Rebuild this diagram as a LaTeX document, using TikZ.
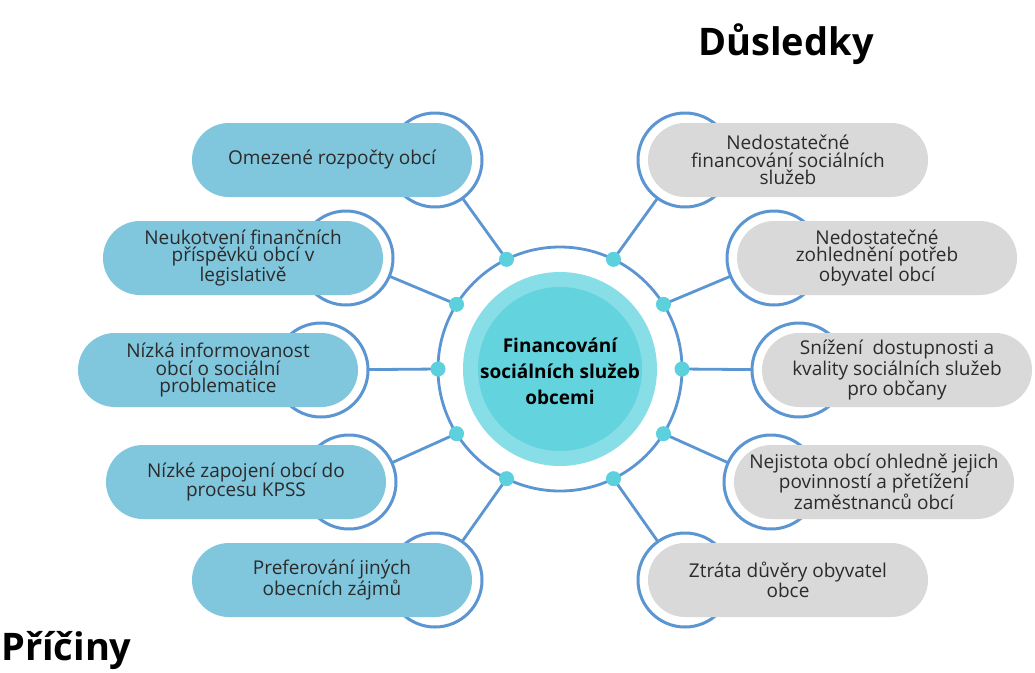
\documentclass[tikz,border=0pt]{standalone}
\usepackage{fontspec}
\setmainfont{Open Sans}
\definecolor{lineblue}{HTML}{5B96D2}
\definecolor{pillblue}{HTML}{80C6DD}
\definecolor{pillgray}{HTML}{D9D9D9}
\definecolor{cyanout}{HTML}{88DEE6}
\definecolor{cyanin}{HTML}{63D3DD}
\definecolor{dotcyan}{HTML}{5CD0DC}
\definecolor{txt}{HTML}{2B2B2B}
\newcommand\pilltext{\fontsize{19}{17.8}\selectfont}
\newcommand\hubtext{\fontsize{19}{26}\selectfont\bfseries}
\newcommand\titletext{\fontsize{38}{40}\selectfont\bfseries}
\begin{document}
\begin{tikzpicture}[x=1pt,y=-1pt,
  ringc/.style={circle,draw=lineblue,line width=3pt,minimum size=94pt,inner sep=0pt,outer sep=0pt},
  pillL/.style={fill=pillblue,rounded corners=37pt,minimum width=280pt,minimum height=74pt,inner sep=0pt,align=center,text=txt,font=\pilltext},
  pillR/.style={pillL,fill=pillgray},
  dotc/.style={circle,fill=dotcyan,minimum size=15pt,inner sep=0pt},
  conn/.style={draw=lineblue,line width=2.8pt},
  titlec/.style={font=\titletext,text=black,inner sep=0pt}]
\useasboundingbox (0,0) rectangle (1035,672);
\fill[white] (0,0) rectangle (1035,672);
% hub
\node[circle,draw=lineblue,line width=2.8pt,minimum size=244pt,inner sep=0pt,outer sep=0pt] (hub) at (560,369) {};
\node[circle,fill=cyanout,minimum size=194pt,inner sep=0pt] (core) at (560,369) {};
\node[circle,fill=cyanin,minimum size=164pt,inner sep=0pt] (corein) at (560,369) {};
\node[align=center,font=\hubtext,text=black] (hubt) at (560,371) {Financování\\sociálních služeb\\obcemi};
% rings
\node[ringc] (rL1) at (435,160) {};
\node[ringc] (rL2) at (346,258) {};
\node[ringc] (rL3) at (321,370) {};
\node[ringc] (rL4) at (349,482) {};
\node[ringc] (rL5) at (435,580) {};
\node[ringc] (rR1) at (685,160) {};
\node[ringc] (rR2) at (774,258) {};
\node[ringc] (rR3) at (799,370) {};
\node[ringc] (rR4) at (771,482) {};
\node[ringc] (rR5) at (685,580) {};
% dots
\coordinate (dL1) at (hub.116);
\coordinate (dL2) at (hub.148);
\coordinate (dL3) at (hub.180);
\coordinate (dL4) at (hub.212);
\coordinate (dL5) at (hub.244);
\coordinate (dR1) at (hub.64);
\coordinate (dR2) at (hub.32);
\coordinate (dR3) at (hub.0);
\coordinate (dR4) at (hub.-32);
\coordinate (dR5) at (hub.-64);
% connectors
\foreach \s in {L,R}{\foreach \i in {1,...,5}{\draw[conn] (r\s\i) -- (d\s\i);}}
\foreach \s in {L,R}{\foreach \i in {1,...,5}{\node[dotc] (n\s\i) at (d\s\i) {};}}
% pills
\node[pillL] (pL1) at (332,160) {Omezené rozpočty obcí};
\node[pillL] (pL2) at (243,258) {Neukotvení finančních\\příspěvků obcí v\\legislativě};
\node[pillL] (pL3) at (218,370) {Nízká informovanost\\obcí o sociální\\problematice};
\node[pillL] (pL4) at (246,482) {Nízké zapojení obcí do\\procesu KPSS};
\node[pillL] (pL5) at (332,580) {Preferování jiných\\obecních zájmů};
\node[pillR] (pR1) at (788,160) {Nedostatečné\\financování sociálních\\služeb};
\node[pillR] (pR2) at (877,258) {Nedostatečné\\zohlednění potřeb\\obyvatel obcí};
\node[pillR,minimum width=270pt] (pR3) at (897,370) {Snížení\ \ dostupnosti a\\kvality sociálních služeb\\pro občany};
\node[pillR] (pR4) at (874,482) {Nejistota obcí ohledně jejich\\povinností a přetížení\\zaměstnanců obcí};
\node[pillR] (pR5) at (788,580) {Ztráta důvěry obyvatel\\obce};
% titles
\node[titlec,anchor=base] (tD) at (786,55) {Důsledky};
\node[titlec,anchor=base west] (tP) at (1,660) {Příčiny};
\end{tikzpicture}
\end{document}
